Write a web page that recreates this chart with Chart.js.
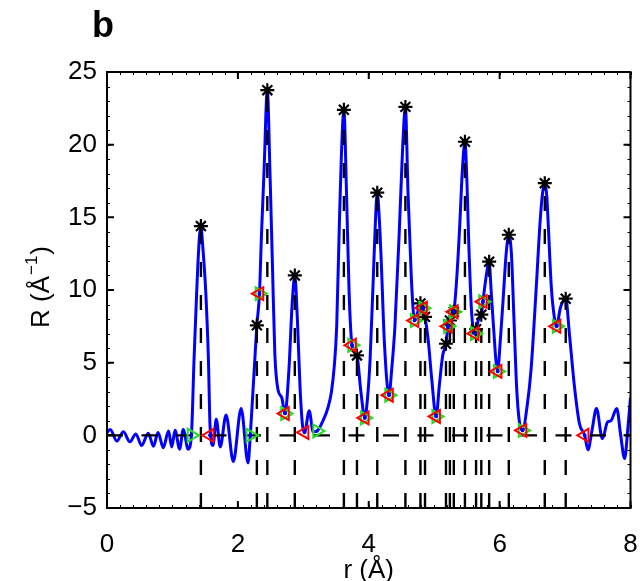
<!DOCTYPE html>
<html lang="en">
<head>
<meta charset="UTF-8">
<title>Peak positions - panel b</title>
<script src="https://cdn.jsdelivr.net/npm/chart.js@4.4.1/dist/chart.umd.min.js"></script>
<style>
  html, body { margin: 0; padding: 0; background: #fff; }
  #wrap { width: 640px; height: 581px; }
</style>
</head>
<body>
<div id="wrap"><canvas id="rdfChart" width="640" height="581"></canvas></div>
<script>
// blue curve R(r)
const curveR = [0.00,0.05,0.15,0.25,0.35,0.44,0.53,0.63,0.71,0.78,
  0.86,0.94,0.99,1.04,1.11,1.165,1.24,1.29,1.33,1.37,
  1.41,1.435,1.46,1.51,1.55,1.575,1.62,1.67,1.73,1.82,
  1.93,2.05,2.155,2.19,2.23,2.26,2.29,2.33,2.36,2.40,
  2.45,2.49,2.53,2.565,2.615,2.67,2.72,2.78,2.83,2.87,
  2.91,2.95,2.99,3.02,3.09,3.15,3.21,3.30,3.38,3.43,
  3.47,3.51,3.55,3.58,3.62,3.66,3.70,3.745,3.82,3.88,
  3.94,3.98,4.02,4.07,4.10,4.13,4.16,4.19,4.24,4.31,
  4.35,4.40,4.47,4.52,4.56,4.60,4.65,4.70,4.75,4.79,
  4.83,4.86,4.91,4.96,5.03,5.08,5.13,5.18,5.21,5.24,
  5.30,5.34,5.39,5.43,5.47,5.50,5.53,5.57,5.62,5.64,
  5.68,5.72,5.745,5.79,5.84,5.87,5.90,5.97,6.01,6.05,
  6.10,6.14,6.18,6.22,6.26,6.30,6.35,6.42,6.48,6.56,
  6.62,6.66,6.69,6.72,6.74,6.79,6.84,6.87,6.93,7.01,
  7.07,7.145,7.22,7.30,7.35,7.41,7.48,7.57,7.65,7.70,
  7.79,7.85,7.91,7.96,8.00];
const curveVal = [0.20,0.40,-0.40,0.25,-0.45,0.10,-0.70,0.15,-0.75,0.20,
  -0.85,0.30,-0.80,0.35,-0.95,0.40,-0.95,0.00,5.2,9.8,
  13.5,14.4,13.2,9.8,5.2,0.6,-0.7,1.1,-0.8,1.4,
  -1.8,1.85,-1.9,0.0,3.0,5.3,7.57,9.75,13.7,18.2,
  23.75,18.2,11.4,5.6,3.1,2.6,1.5,4.5,9.1,11.0,
  7.9,3.3,0.6,0.2,1.7,0.25,0.3,1.0,1.95,3.0,
  4.6,7.5,14.4,19.0,22.4,16.7,9.8,6.2,5.5,3.0,
  1.2,2.5,5.2,10.9,14.5,16.7,15.0,12.1,6.3,2.76,
  4.5,7.5,14.4,20.0,22.6,16.7,10.9,7.9,8.5,9.08,
  8.75,8.15,6.5,4.0,1.3,3.5,5.5,6.3,7.5,7.9,
  8.5,10.5,14.4,18.2,20.2,17.5,13.0,8.6,7.0,7.3,
  8.0,8.3,9.2,10.8,11.95,10.0,7.9,4.4,6.5,9.1,
  12.5,13.8,12.5,7.9,3.3,1.0,0.34,2.0,4.5,10.2,
  14.8,16.8,17.35,16.5,14.8,10.2,8.0,7.5,8.8,9.4,
  6.8,3.3,0.8,0.0,-1.0,0.3,1.84,-0.23,0.92,1.0,
  1.84,0.0,-1.6,0.5,2.6];

// peaks (asterisks + dashed stems)
const peakR = [1.435,2.29,2.45,2.87,3.62,3.82,4.13,4.56,4.79,4.86,5.18,5.24,5.30,5.47,5.64,5.72,5.84,6.14,6.69,7.01];
const peakH = [14.4,7.57,23.75,11.0,22.4,5.5,16.7,22.6,9.08,8.15,6.3,7.9,8.5,20.2,7.3,8.3,11.95,13.8,17.35,9.4];

// peak limits: green = start, red = end
const startR = [1.29,2.19,2.33,2.72,3.21,3.745,3.94,4.31,4.70,4.83,5.03,5.21,5.30,5.62,5.745,5.97,6.35,6.87];
const startH = [0,0,9.75,1.5,0.3,6.2,1.2,2.76,7.9,8.75,1.3,7.5,8.5,7.0,9.2,4.4,0.34,7.5];
const endR = [1.57,2.33,2.72,3.02,3.745,3.94,4.31,4.70,4.83,5.03,5.21,5.30,5.62,5.745,5.97,6.35,6.87,7.30];
const endH = [0,9.75,1.5,0.2,6.2,1.2,2.76,7.9,8.75,1.3,7.5,8.5,7.0,9.2,4.4,0.34,7.5,0];

// axes
const xTicks = [0, 2, 4, 6, 8];
const yTicks = [-5, 0, 5, 10, 15, 20, 25];
const xMinorStep = 0.2;
const yMinorStep = 1;

const FONT = '"Liberation Sans", Arial, Helvetica, sans-serif';
const yMin = yTicks[0], yMax = yTicks[yTicks.length - 1];
const xMin = xTicks[0], xMax = xTicks[xTicks.length - 1];

const toPts = (xs, ys) => xs.map((x, i) => ({ x: x, y: ys[i] }));

const stemData = [];
peakR.forEach((r, i) => {
  stemData.push({ x: r, y: yMin }, { x: r, y: peakH[i] }, { x: r, y: null });
});

// box, inward ticks, axis titles, panel letter
const matlabFrame = {
  id: 'matlabFrame',
  afterDraw(chart) {
    const ctx = chart.ctx, a = chart.chartArea;
    const xs = chart.scales.x, ys = chart.scales.y;
    ctx.save();
    ctx.strokeStyle = '#000';
    ctx.lineWidth = 1;
    ctx.beginPath();
    const nx = Math.round((xMax - xMin) / xMinorStep);
    for (let i = 0; i <= nx; i++) {
      const px = Math.round(xs.getPixelForValue(xMin + i * xMinorStep)) + 0.5;
      ctx.moveTo(px, a.bottom); ctx.lineTo(px, a.bottom - 3);
      ctx.moveTo(px, a.top); ctx.lineTo(px, a.top + 3);
    }
    const ny = Math.round((yMax - yMin) / yMinorStep);
    for (let i = 0; i <= ny; i++) {
      const py = Math.round(ys.getPixelForValue(yMin + i * yMinorStep)) + 0.5;
      ctx.moveTo(a.left, py); ctx.lineTo(a.left + 3, py);
      ctx.moveTo(a.right, py); ctx.lineTo(a.right - 3, py);
    }
    ctx.stroke();

    ctx.lineWidth = 2;
    ctx.beginPath();
    xTicks.forEach(v => {
      const px = xs.getPixelForValue(v);
      ctx.moveTo(px, a.bottom); ctx.lineTo(px, a.bottom - 7);
      ctx.moveTo(px, a.top); ctx.lineTo(px, a.top + 7);
    });
    yTicks.forEach(v => {
      const py = ys.getPixelForValue(v);
      ctx.moveTo(a.left, py); ctx.lineTo(a.left + 7, py);
      ctx.moveTo(a.right, py); ctx.lineTo(a.right - 7, py);
    });
    ctx.stroke();
    ctx.strokeRect(a.left, a.top, a.right - a.left, a.bottom - a.top);

    ctx.fillStyle = '#000';
    ctx.textBaseline = 'alphabetic';
    ctx.textAlign = 'center';
    ctx.font = '26px ' + FONT;
    ctx.fillText('r (Å)', (a.left + a.right) / 2, 578);

    ctx.font = 'bold 36px ' + FONT;
    ctx.fillText('b', 103, 37);

    // y title with superscript
    ctx.translate(49, (a.top + a.bottom) / 2 - 2);
    ctx.rotate(-Math.PI / 2);
    ctx.textAlign = 'left';
    const big = '26px ' + FONT, small = '17px ' + FONT;
    ctx.font = big;
    const w1 = ctx.measureText('R (Å').width;
    const w3 = ctx.measureText(')').width;
    ctx.font = small;
    const w2 = ctx.measureText('\u22121').width;
    let x0 = -(w1 + w2 + w3) / 2;
    ctx.font = big;
    ctx.fillText('R (Å', x0, 0);
    ctx.font = small;
    ctx.fillText('\u22121', x0 + w1 + 1, -12);
    ctx.font = big;
    ctx.fillText(')', x0 + w1 + w2 + 2, 0);
    ctx.restore();
  }
};

new Chart(document.getElementById('rdfChart'), {
  type: 'line',
  data: {
    datasets: [
      {
        type: 'scatter', label: 'centres',
        data: toPts(startR, startH).concat(toPts(endR, endH)),
        pointStyle: 'circle', pointRadius: 1.8, pointBorderWidth: 0,
        pointBackgroundColor: '#0000ff'
      },
      {
        type: 'scatter', label: 'end',
        data: toPts(endR, endH),
        pointStyle: 'triangle', pointRotation: -90, pointRadius: 7.5,
        pointBorderColor: '#ff0000', pointBorderWidth: 2,
        pointBackgroundColor: 'rgba(0,0,0,0)'
      },
      {
        type: 'scatter', label: 'start',
        data: toPts(startR, startH),
        pointStyle: 'triangle', pointRotation: 90, pointRadius: 7.5,
        pointBorderColor: '#22dd22', pointBorderWidth: 2,
        pointBackgroundColor: 'rgba(0,0,0,0)'
      },
      {
        type: 'scatter', label: 'peaks',
        data: toPts(peakR, peakH),
        pointStyle: 'star', pointRadius: 7, pointBorderColor: '#000',
        pointBorderWidth: 2.2
      },
      {
        label: 'stems', data: stemData, spanGaps: false,
        borderColor: '#000', borderWidth: 2.4, borderDash: [15, 18],
        pointRadius: 0, tension: 0
      },
      {
        label: 'zero', data: [{ x: xMin, y: 0 }, { x: xMax, y: 0 }],
        borderColor: '#000', borderWidth: 2.2, borderDash: [16, 18.5],
        pointRadius: 0
      },
      {
        label: 'R', data: toPts(curveR, curveVal),
        borderColor: '#0000ff', borderWidth: 3, pointRadius: 0,
        cubicInterpolationMode: 'monotone'
      }
    ]
  },
  options: {
    responsive: false,
    animation: false,
    devicePixelRatio: 1,
    layout: { padding: { left: 0, top: 72, right: 9, bottom: 0 } },
    plugins: { legend: { display: false }, tooltip: { enabled: false } },
    scales: {
      x: {
        type: 'linear', min: xMin, max: xMax,
        grid: { display: false, drawTicks: false },
        border: { display: false },
        ticks: {
          stepSize: 2, padding: 21, color: '#000', maxRotation: 0,
          font: { size: 26, family: FONT }
        },
        afterFit: s => { s.height = 73; s.paddingLeft = 0; s.paddingRight = 0; }
      },
      y: {
        type: 'linear', min: yMin, max: yMax,
        grid: { display: false, drawTicks: false },
        border: { display: false },
        ticks: {
          stepSize: 5, padding: 10, color: '#000',
          font: { size: 26, family: FONT },
          callback: v => (v < 0 ? '\u2212' + Math.abs(v) : '' + v)
        },
        afterFit: s => { s.width = 107; s.paddingTop = 0; s.paddingBottom = 0; }
      }
    }
  },
  plugins: [matlabFrame]
});
</script>
</body>
</html>
